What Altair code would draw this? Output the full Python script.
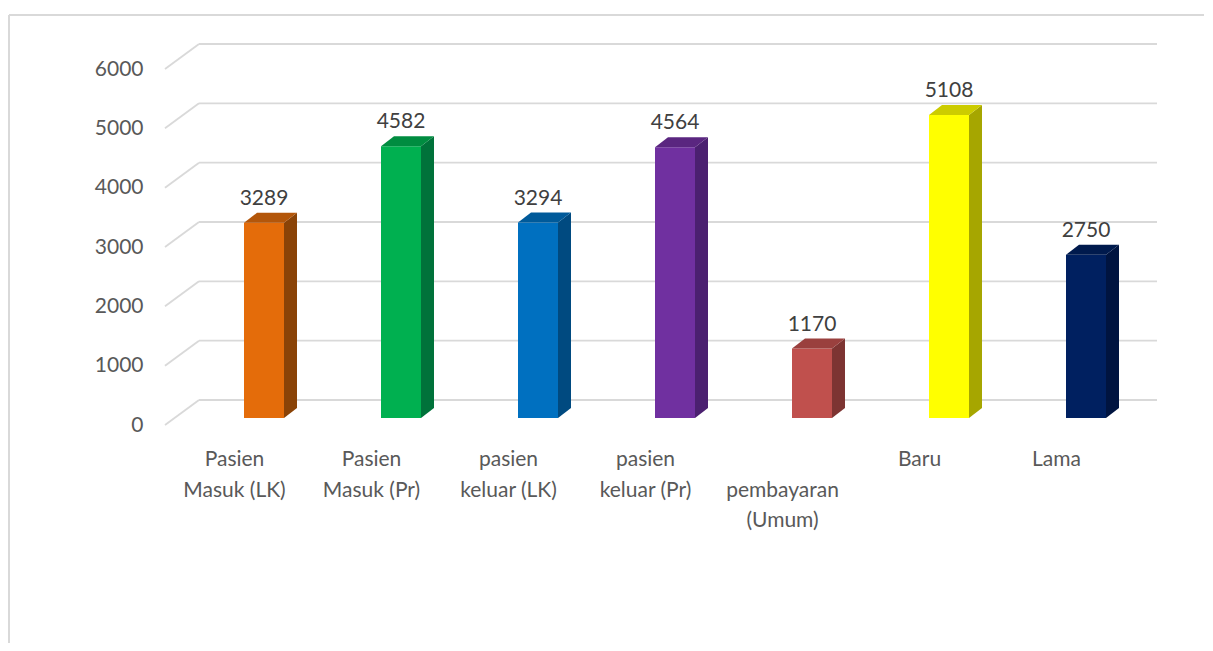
import altair as alt
import pandas as pd

# ---------------- data ----------------
categories = ["Pasien Masuk (LK)", "Pasien Masuk (Pr)", "pasien keluar (LK)",
              "pasien keluar (Pr)", "pembayaran (Umum)", "Baru", "Lama"]
label_lines = ["Pasien\nMasuk (LK)", "Pasien\nMasuk (Pr)", "pasien\nkeluar (LK)",
               "pasien\nkeluar (Pr)", "\npembayaran\n(Umum)", "Baru", "Lama"]
values = [3289, 4582, 3294, 4564, 1170, 5108, 2750]
front_colors = ["#E46C0A", "#00B050", "#0070C0", "#7030A0", "#C0504D", "#FFFF00", "#002060"]
top_colors = ["#B3560A", "#008C40", "#005A9A", "#5A2680", "#9A403E", "#CCCC00", "#001A4D"]
side_colors = ["#8A4307", "#00723A", "#004A80", "#4B2070", "#7D3432", "#A6A600", "#001440"]
y_ticks = [0, 1000, 2000, 3000, 4000, 5000, 6000]

# ---------------- layout / projection constants ----------------
W, H = 1195, 628
ZERO_Y = 410.0            # plot-y of the front zero line
PX_X = 137.0              # pixels per category step
PX_Y = 356.0 / 6000.0     # pixels per value unit
x_dom = [-255.0 / PX_X, -255.0 / PX_X + W / PX_X]
y_dom = [-(H - ZERO_Y) / PX_Y, ZERO_Y / PX_Y]

WALL_DX = 34.0 / PX_X
WALL_DY = 25.0 / PX_Y
GRID_LEFT = -99.0 / PX_X
GRID_RIGHT = 893.0 / PX_X
BAR_LIFT = 7.0 / PX_Y
BAR_HW = 20.0 / PX_X
BAR_DX = 13.0 / PX_X
BAR_DY = 10.0 / PX_Y

xs = alt.Scale(domain=x_dom, nice=False, zero=False)
ys = alt.Scale(domain=y_dom, nice=False, zero=False)
y_axis = alt.Axis(values=y_ticks, title=None, grid=False, domain=False, ticks=False,
                  offset=-136, labelPadding=2, labelFont="Lato", labelFontSize=21,
                  labelColor="#595959", format="d")

# ---------------- tables ----------------
grid_rows = []
for t in y_ticks:
    grid_rows.append(dict(xa=GRID_LEFT, ya=t, xb=GRID_LEFT + WALL_DX, yb=t + WALL_DY))
    grid_rows.append(dict(xa=GRID_LEFT + WALL_DX, ya=t + WALL_DY, xb=GRID_RIGHT, yb=t + WALL_DY))
grid_df = pd.DataFrame(grid_rows)

front_rows, face_rows, lab_rows = [], [], []
for i, (cat, v) in enumerate(zip(categories, values)):
    c = float(i)
    base = BAR_LIFT
    top = BAR_LIFT + v
    front_rows.append(dict(cat=cat, xl=c - BAR_HW, xr=c + BAR_HW, yb=base, yt=top,
                           fill=front_colors[i], c=c, label=str(v)))
    # side face (parallelogram as a 2-point area)
    sid = f"side{i}"
    face_rows += [
        dict(face=sid, x=c + BAR_HW, lo=base, hi=top, fill=side_colors[i]),
        dict(face=sid, x=c + BAR_HW + BAR_DX, lo=base + BAR_DY, hi=top + BAR_DY, fill=side_colors[i]),
    ]
    # top face (parallelogram as a 4-point area)
    tid = f"top{i}"
    face_rows += [
        dict(face=tid, x=c - BAR_HW, lo=top, hi=top, fill=top_colors[i]),
        dict(face=tid, x=c - BAR_HW + BAR_DX, lo=top, hi=top + BAR_DY, fill=top_colors[i]),
        dict(face=tid, x=c + BAR_HW, lo=top, hi=top + BAR_DY, fill=top_colors[i]),
        dict(face=tid, x=c + BAR_HW + BAR_DX, lo=top + BAR_DY, hi=top + BAR_DY, fill=top_colors[i]),
    ]
    lab_rows.append(dict(cat=cat, x=c - 29.5 / PX_X, y=0, text=label_lines[i]))

front_df = pd.DataFrame(front_rows)
face_df = pd.DataFrame(face_rows)
lab_df = pd.DataFrame(lab_rows)

# ---------------- layers ----------------
grid = alt.Chart(grid_df).mark_rule(color="#d9d9d9", strokeWidth=1.8).encode(
    x=alt.X("xa:Q", scale=xs, axis=None),
    x2="xb:Q",
    y=alt.Y("ya:Q", scale=ys, axis=y_axis),
    y2="yb:Q",
)

front = alt.Chart(front_df).mark_rect().encode(
    x=alt.X("xl:Q", scale=xs, axis=None),
    x2="xr:Q",
    y=alt.Y("yb:Q", scale=ys, axis=y_axis),
    y2="yt:Q",
    color=alt.Color("fill:N", scale=None),
)

faces = alt.Chart(face_df).mark_area(opacity=1, interpolate="linear", orient="vertical").encode(
    x=alt.X("x:Q", scale=xs, axis=None),
    y=alt.Y("lo:Q", scale=ys, axis=y_axis, stack=None),
    y2="hi:Q",
    fill=alt.Fill("fill:N", scale=None),
    detail="face:N",
)

value_labels = alt.Chart(front_df).mark_text(
    font="Lato", fontSize=21, color="#404040", baseline="alphabetic", align="center", dy=-18
).encode(
    x=alt.X("c:Q", scale=xs, axis=None),
    y=alt.Y("yt:Q", scale=ys, axis=y_axis),
    text="label:N",
)

cat_labels = alt.Chart(lab_df).mark_text(
    font="Lato", fontSize=21, color="#595959", baseline="alphabetic", align="center",
    lineBreak="\n", lineHeight=30.5, dy=41
).encode(
    x=alt.X("x:Q", scale=xs, axis=None),
    y=alt.Y("y:Q", scale=ys, axis=y_axis),
    text="text:N",
)

border_top = alt.Chart(grid_df).mark_rule(color="#d9d9d9", strokeWidth=1.5).encode(
    x=alt.value(0), x2=alt.value(W), y=alt.value(0)
)
border_left = alt.Chart(grid_df).mark_rule(color="#d9d9d9", strokeWidth=1.5).encode(
    x=alt.value(0), y=alt.value(0), y2=alt.value(H)
)

chart = alt.layer(
    grid, front, faces, value_labels, cat_labels, border_top, border_left
).properties(
    width=W, height=H,
    autosize=alt.AutoSizeParams(type="none"),
    padding={"left": 1, "top": 7, "right": 0, "bottom": 0},
    background="white",
).configure_view(stroke=None)

chart.save("out.html", embed_options={"renderer": "svg", "actions": False})
